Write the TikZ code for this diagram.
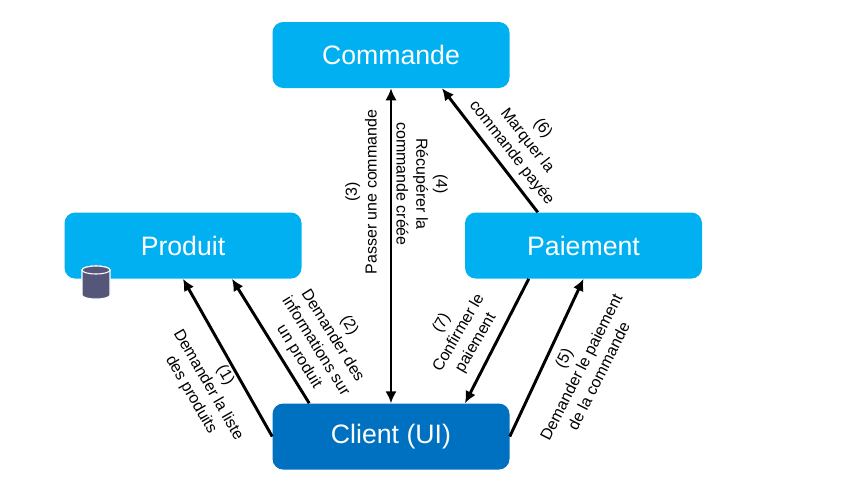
\documentclass[tikz,border=0pt]{standalone}
\usepackage{fontspec}
\setmainfont{Liberation Sans}
\usepackage{xcolor}
\usepackage{tikz}
\usetikzlibrary{arrows.meta, positioning}
\definecolor{lightblue}{HTML}{00B0F0}
\definecolor{darkblue}{HTML}{0070C0}
\definecolor{slate}{HTML}{56567A}

\begin{document}
\begin{tikzpicture}[
    x=0.75pt, y=-0.75pt,
    box/.style={rectangle, rounded corners=8pt, minimum width=177.75pt, minimum height=49.5pt, text centered, text=white, font=\fontsize{20}{24}\selectfont, fill=lightblue},
    arrow/.style={-{Latex[length=9pt,width=8.5pt]}, line width=2.2pt},
    biarrow/.style={{Latex[length=9pt,width=8.5pt]}-{Latex[length=9pt,width=8.5pt]}, line width=2.2pt},
    lbl/.style={align=center, inner sep=0pt, font=\fontsize{12}{14.8}\selectfont},
    db/.style={draw=white, line width=0.8pt, fill=slate}
]
    \useasboundingbox (0,0) rectangle (854,494);
    \node[box] (commande) at (391,55) {Commande};
    \node[box, below=93pt of commande, xshift=-156pt] (produit) {Produit};
    \node[box, below=93pt of commande, xshift=144.4pt] (paiement) {Paiement};
    \node[box, below=236.25pt of commande, fill=darkblue] (client) {Client (UI)};

    \coordinate (base) at (96,270);
    \draw[db] (base) ++(-14,0) -- ++(0,25) arc[start angle=180, end angle=360, x radius=10.5pt, y radius=3pt] -- ++(0,-25) arc[start angle=0, end angle=180, x radius=10.5pt, y radius=3pt] -- cycle;
    \draw[db] (base) ellipse[x radius=10.5pt, y radius=3pt];

    \draw[arrow] (client.west) -- (produit.south);
    \draw[arrow] ([xshift=27.75pt]client.north west) -- ([xshift=36.75pt]produit.south);
    \draw[biarrow] (client.north) -- (commande.south);
    \draw[arrow] ([xshift=54.75pt]paiement.north west) -- ([xshift=38.25pt]commande.south);
    \draw[arrow] ([xshift=48pt]paiement.south west) -- ([xshift=55.5pt]client.north);
    \draw[arrow] (client.east) -- (paiement.south);

    \node[lbl, rotate=-60] (lblun) at (208,385) {(1)\\Demander la liste\\des produits};
    \node[lbl, rotate=-58] (lbldeux) at (324,341) {(2)\\Demander des\\informations sur\\un produit};
    \node[lbl, rotate=90] (lbltrois) at (361,192) {(3)\\Passer une commande};
    \node[lbl, rotate=-90] (lblquatre) at (422,184) {(4)\\Récupérer la\\commande créée};
    \node[lbl, rotate=63] (lblcinq) at (581,367) {(5)\\Demander le paiement\\de la commande};
    \node[lbl, rotate=-52] (lblsix) at (527,141) {(6)\\Marquer la\\commande payée};
    \node[lbl, rotate=60] (lblsept) at (459,333) {(7)\\Confirmer le\\paiement};
\end{tikzpicture}
\end{document}
